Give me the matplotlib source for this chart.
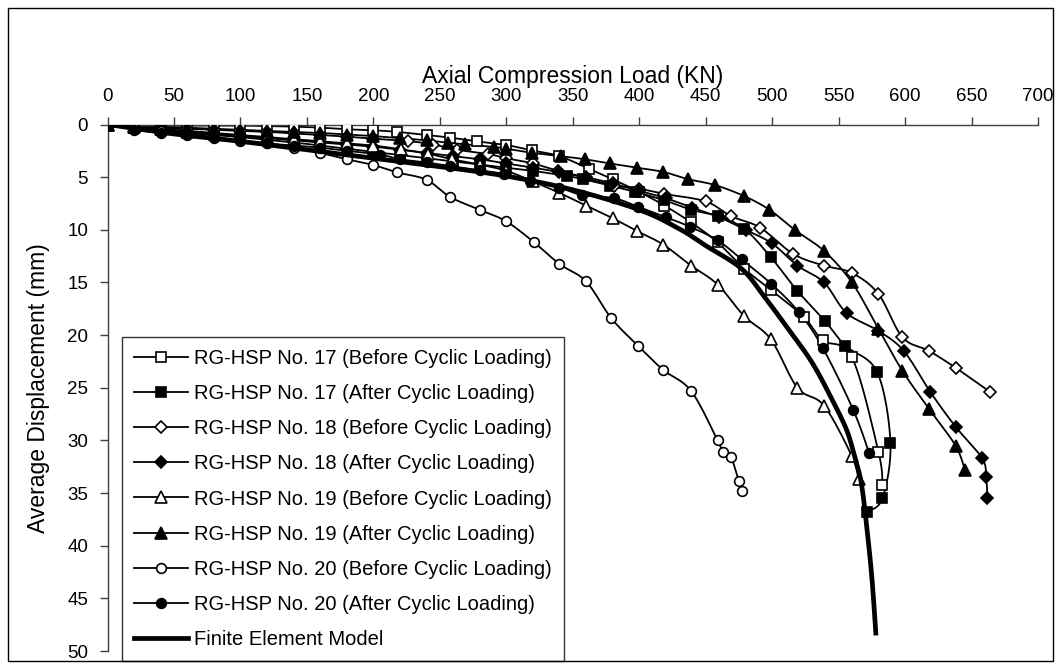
import numpy as np
import matplotlib
matplotlib.use("Agg")
import matplotlib.pyplot as plt
from matplotlib.lines import Line2D
from matplotlib.patches import Rectangle

plt.rcParams['font.family'] = ['Liberation Sans', 'DejaVu Sans']

# Load (kN) and average displacement (mm) for each specimen
load_17b = [0, 20, 40, 60, 80, 100, 120, 140, 160, 180, 200, 218, 240, 258, 278, 300, 319, 340, 362, 380, 400, 419, 439, 459, 479, 499, 524, 538, 560, 580, 583]
disp_17b = [0, 0.1, 0.1, 0.1, 0.1, 0.1, 0.15, 0.2, 0.3, 0.45, 0.55, 0.7, 1.0, 1.25, 1.6, 1.95, 2.45, 3.0, 4.2, 5.2, 6.4, 7.7, 9.3, 11.2, 13.7, 15.7, 18.3, 20.5, 22.1, 31.1, 34.2]

load_17a = [0, 20, 40, 60, 80, 100, 120, 140, 160, 180, 200, 220, 240, 260, 280, 300, 320, 346, 358, 378, 397, 419, 439, 459, 479, 499, 519, 540, 555, 579, 589, 583, 571]
disp_17a = [0, 0.3, 0.5, 0.8, 1.0, 1.2, 1.45, 1.7, 2.0, 2.3, 2.6, 2.9, 3.2, 3.5, 3.8, 4.1, 4.4, 4.9, 5.2, 5.8, 6.4, 7.2, 8.1, 8.7, 9.9, 12.6, 15.8, 18.7, 21.0, 23.5, 30.2, 35.5, 36.8]

load_18b = [0, 20, 40, 60, 80, 100, 120, 140, 160, 180, 200, 226, 245, 263, 286, 300, 320, 339, 360, 381, 400, 419, 450, 469, 491, 516, 539, 560, 580, 598, 618, 638, 664]
disp_18b = [0, 0.2, 0.3, 0.4, 0.5, 0.6, 0.7, 0.85, 1.0, 1.15, 1.35, 1.57, 1.9, 2.4, 2.8, 3.2, 3.7, 4.4, 5.1, 5.8, 6.1, 6.6, 7.3, 8.7, 9.8, 12.3, 13.4, 14.1, 16.1, 20.2, 21.5, 23.1, 25.4]

load_18a = [0, 20, 40, 60, 80, 100, 120, 140, 160, 180, 200, 220, 240, 260, 280, 300, 320, 340, 360, 380, 400, 420, 440, 460, 480, 500, 519, 539, 556, 580, 599, 619, 638, 658, 661, 662]
disp_18a = [0, 0.3, 0.5, 0.7, 0.9, 1.1, 1.3, 1.5, 1.7, 1.9, 2.1, 2.4, 2.7, 3.0, 3.3, 3.7, 4.1, 4.5, 5.0, 5.6, 6.3, 7.0, 7.9, 8.8, 10.0, 11.3, 13.4, 15.0, 17.9, 19.6, 21.5, 25.4, 28.7, 31.7, 33.5, 35.5]

load_19b = [0, 20, 40, 60, 80, 100, 120, 140, 160, 180, 200, 221, 241, 259, 280, 300, 320, 340, 360, 380, 398, 418, 439, 459, 479, 499, 519, 539, 560, 565]
disp_19b = [0, 0.2, 0.4, 0.6, 0.8, 1.0, 1.2, 1.4, 1.6, 1.8, 2.0, 2.36, 2.77, 3.3, 3.8, 4.4, 5.4, 6.5, 7.7, 8.9, 10.1, 11.4, 13.4, 15.2, 18.2, 20.4, 25.0, 26.7, 31.5, 33.7]

load_19a = [0, 20, 40, 60, 80, 100, 120, 140, 160, 180, 200, 220, 240, 256, 269, 291, 300, 319, 341, 359, 378, 398, 418, 437, 457, 479, 498, 517, 539, 560, 580, 598, 618, 638, 645]
disp_19a = [0, 0.1, 0.2, 0.3, 0.4, 0.5, 0.6, 0.7, 0.8, 0.95, 1.1, 1.3, 1.5, 1.73, 1.88, 2.14, 2.3, 2.68, 3.0, 3.3, 3.7, 4.1, 4.5, 5.2, 5.75, 6.8, 8.1, 10.0, 12.0, 15.0, 19.4, 23.4, 27.0, 30.5, 32.8]

load_20b = [0, 20, 40, 60, 80, 100, 120, 140, 160, 180, 200, 218, 240, 258, 280, 300, 321, 340, 360, 379, 399, 418, 439, 459, 463, 469, 475, 477]
disp_20b = [0, 0.3, 0.6, 0.9, 1.2, 1.5, 1.8, 2.2, 2.7, 3.3, 3.85, 4.55, 5.25, 6.9, 8.1, 9.2, 11.2, 13.25, 14.9, 18.4, 21.0, 23.3, 25.3, 30.0, 31.1, 31.6, 33.9, 34.8]

load_20a = [0, 20, 40, 60, 80, 100, 120, 140, 160, 180, 205, 220, 240, 258, 280, 298, 318, 340, 357, 381, 399, 420, 438, 459, 477, 499, 520, 538, 561, 573]
disp_20a = [0, 0.5, 0.8, 1.0, 1.3, 1.6, 1.8, 2.0, 2.2, 2.5, 2.85, 3.3, 3.6, 3.95, 4.35, 4.7, 5.4, 6.0, 6.7, 7.0, 7.8, 8.8, 9.7, 11.0, 12.8, 15.1, 17.8, 21.2, 27.1, 31.2]

load_fe = [0, 50, 100, 150, 200, 250, 300, 350, 400, 430, 450, 477, 495, 512, 530, 545, 556, 562, 567, 571, 575, 578]
disp_fe = [0, 0.9, 1.6, 2.4, 3.2, 4.0, 4.9, 6.2, 8.1, 9.9, 11.5, 13.7, 16.5, 19.4, 22.6, 26.1, 29.0, 31.5, 34.0, 38.0, 43.0, 48.3]

labels = [
    "RG-HSP No. 17 (Before Cyclic Loading)",
    "RG-HSP No. 17 (After Cyclic Loading)",
    "RG-HSP No. 18 (Before Cyclic Loading)",
    "RG-HSP No. 18 (After Cyclic Loading)",
    "RG-HSP No. 19 (Before Cyclic Loading)",
    "RG-HSP No. 19 (After Cyclic Loading)",
    "RG-HSP No. 20 (Before Cyclic Loading)",
    "RG-HSP No. 20 (After Cyclic Loading)",
]
loads = [load_17b, load_17a, load_18b, load_18a, load_19b, load_19a, load_20b, load_20a]
disps = [disp_17b, disp_17a, disp_18b, disp_18a, disp_19b, disp_19a, disp_20b, disp_20a]
markers = ["s", "s", "D", "D", "^", "^", "o", "o"]
faces = ["white", "black"] * 4
sizes = [6.5, 6.5, 6.0, 6.0, 8.0, 8.0, 7.0, 7.0]


def smooth(x, y, n=12):
    """Bezier smoothing through every point (spreadsheet style curves)."""
    x = np.asarray(x, float)
    y = np.asarray(y, float)
    if len(x) < 3:
        return x, y
    px = np.concatenate([[x[0]], x, [x[-1]]])
    py = np.concatenate([[y[0]], y, [y[-1]]])
    t = np.linspace(0, 1, n, endpoint=False)
    ox, oy = [], []
    for i in range(1, len(px) - 2):
        p0, p1, p2, p3 = (np.array([px[j], py[j]]) for j in (i - 1, i, i + 1, i + 2))
        c1 = p1 + (p2 - p0) / 6.0
        c2 = p2 - (p3 - p1) / 6.0
        b = (((1 - t) ** 3)[:, None] * p1 + (3 * (1 - t) ** 2 * t)[:, None] * c1
             + (3 * (1 - t) * t ** 2)[:, None] * c2 + (t ** 3)[:, None] * p2)
        ox.extend(b[:, 0])
        oy.extend(b[:, 1])
    ox.append(x[-1])
    oy.append(y[-1])
    return np.array(ox), np.array(oy)


fig = plt.figure(figsize=(10.61, 6.69), dpi=100)
fig.patches.append(Rectangle((8 / 1061, 8 / 669), 1045 / 1061, 653 / 669,
                             transform=fig.transFigure, fill=False,
                             edgecolor="black", linewidth=1.0))

ax = fig.add_axes([107.5 / 1061, 18 / 669, 930.5 / 1061, 526.5 / 669])

handles = []
for lab, x, y, m, fc, ms in zip(labels, loads, disps, markers, faces, sizes):
    sx, sy = smooth(x, y)
    ax.plot(sx, sy, color="black", linewidth=1.3, zorder=2)
    ax.plot(x, y, linestyle="none", marker=m, markersize=ms,
            markerfacecolor=fc, markeredgecolor="black", markeredgewidth=1.2,
            zorder=3)
    handles.append(Line2D([], [], color="black", linewidth=1.3, marker=m,
                          markersize=ms, markerfacecolor=fc,
                          markeredgecolor="black", markeredgewidth=1.2,
                          label=lab))

fx, fy = smooth(load_fe, disp_fe)
ax.plot(fx, fy, color="black", linewidth=3.4, zorder=4)
handles.append(Line2D([], [], color="black", linewidth=3.4,
                      label="Finite Element Model"))

ax.set_xlim(0, 700)
ax.set_ylim(50, 0)
ax.set_xticks(range(0, 701, 50))
ax.set_yticks(range(0, 51, 5))
ax.xaxis.tick_top()
ax.xaxis.set_label_position("top")
ax.spines["bottom"].set_visible(False)
ax.spines["right"].set_visible(False)
for s in ("top", "left"):
    ax.spines[s].set_color("#404040")
    ax.spines[s].set_linewidth(1.0)
ax.tick_params(axis="both", direction="out", length=6, width=1.0,
               color="#404040", labelsize=13.5, pad=8)
ax.set_xlabel("Axial Compression Load (KN)", fontsize=16.5, labelpad=4)
ax.set_ylabel("Average Displacement (mm)", fontsize=16.5, labelpad=12)

leg = ax.legend(handles=handles, loc="upper left",
                bbox_to_anchor=(14.5 / 930.5, (652 - 338) / 526.5),
                fontsize=14.5, frameon=True, fancybox=False, edgecolor="black",
                handlelength=2.7, handletextpad=0.3, labelspacing=0.8,
                borderpad=0.6, borderaxespad=0)
leg.get_frame().set_linewidth(1.0)
leg.set_zorder(5)

fig.savefig("out.png", dpi=100)
